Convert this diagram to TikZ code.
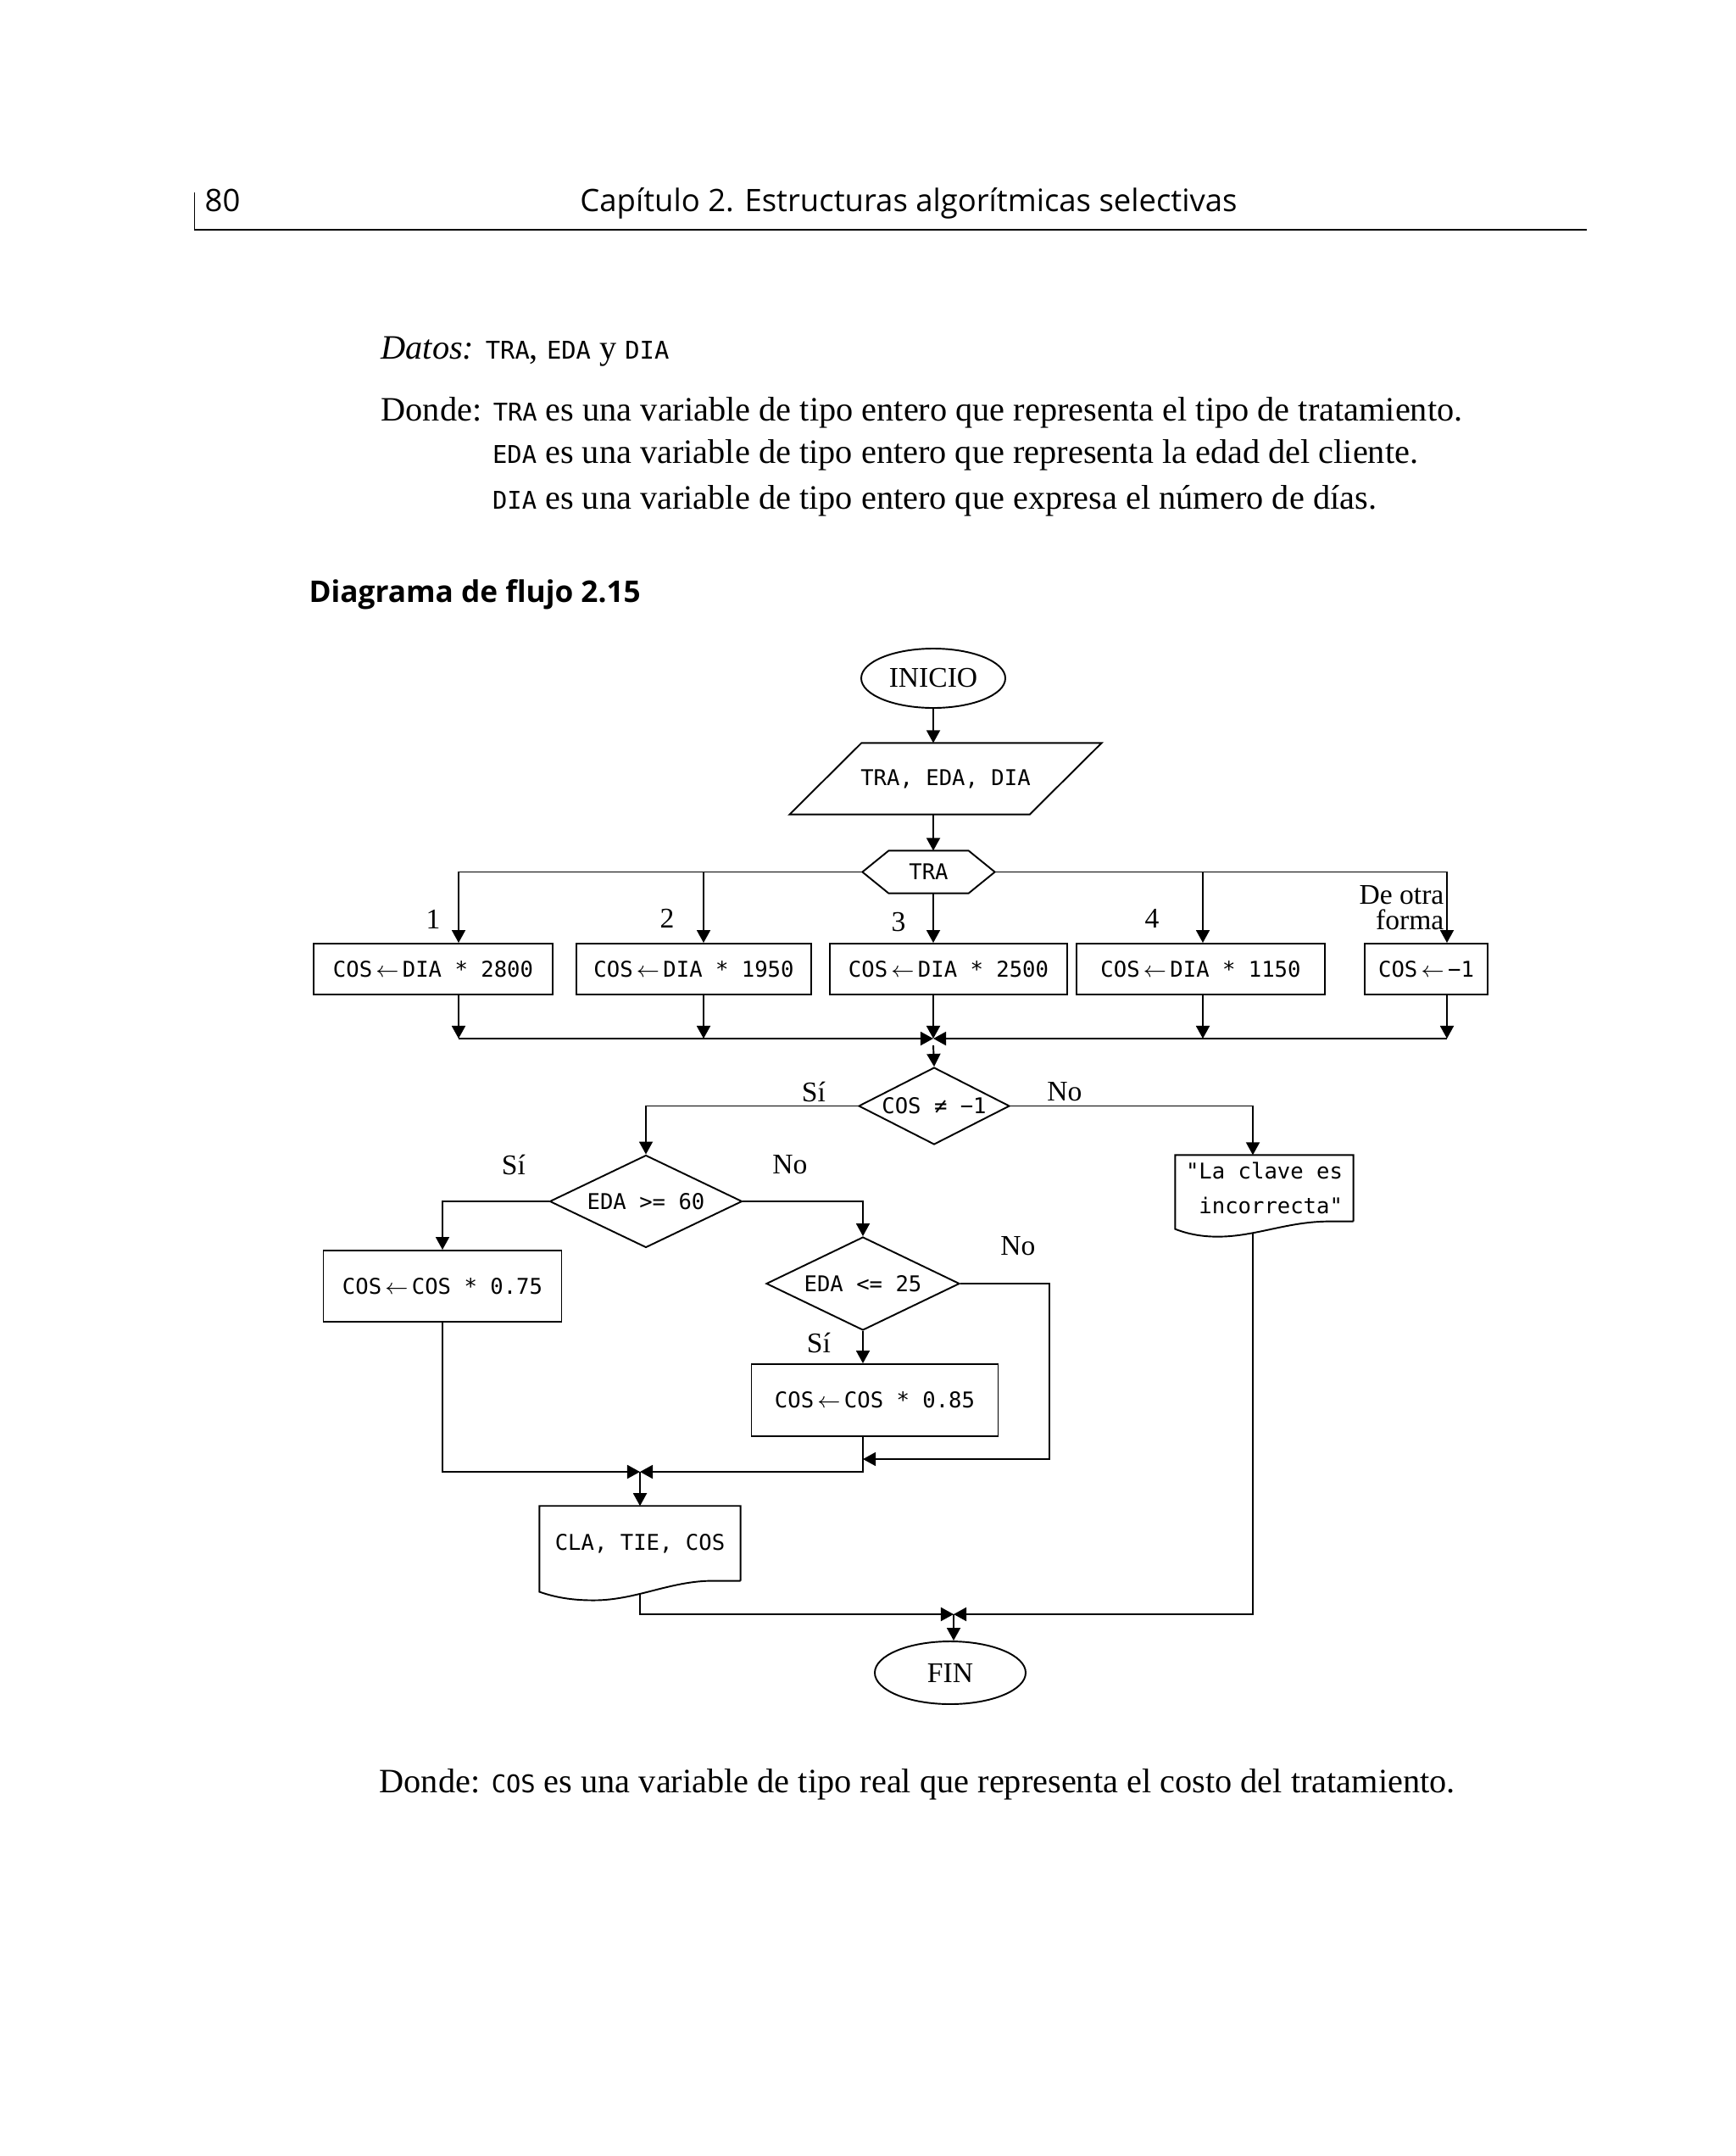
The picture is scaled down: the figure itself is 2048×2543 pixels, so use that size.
\documentclass[tikz,border=0pt]{standalone}
\usepackage{fontspec}
\setmainfont{Liberation Serif}
\newfontfamily\hdrfont{Open Sans}
\newfontfamily\codefont{DejaVu Sans Mono}
\usetikzlibrary{arrows.meta,shapes.geometric,calc}
\newcommand\upx{0.3125pt}
\newcommand\mycode[1]{{\codefont\fontsize{9}{11}\selectfont #1}}
\newcommand\lar{\,$\leftarrow$\,}
\tikzset{
  ln/.style={line width=0.6pt},
  arr/.style={line width=0.6pt,-{Triangle[length=4.7pt,width=5pt]}},
  codetxt/.style={font=\codefont\fontsize{8}{9.6}\selectfont},
  proc/.style={draw,line width=0.6pt,rectangle,inner sep=0pt,codetxt},
  term/.style={draw,line width=0.6pt,ellipse,inner sep=0pt,font=\fontsize{10.5}{12}\selectfont},
  dec/.style={draw,line width=0.6pt,diamond,aspect=2,inner sep=0pt,codetxt},
  plain/.style={inner sep=0pt,codetxt},
  lbl/.style={inner sep=0pt,font=\fontsize{10.5}{12}\selectfont},
  bodytxt/.style={anchor=base west,inner sep=0pt,font=\fontsize{12.6}{15}\selectfont},
}
\begin{document}
\begin{tikzpicture}[x=0.3125pt,y=-0.3125pt]
\fill[white] (0,0) rectangle (2048,2543);
\useasboundingbox (0,0) rectangle (2048,2543);

% ---------- header ----------
\coordinate (hv1) at (229.4,226.7);
\coordinate (hv2) at (229.4,271);
\coordinate (hr2) at (1872,271);
\draw[line width=0.5pt] (hv1) -- (hv2);
\draw[line width=0.9pt] (hv2) -- (hr2);
\node[anchor=base west,inner sep=0pt,font=\hdrfont\fontsize{11.4}{13}\selectfont] (pg) at (241,249.3) {80};
\node[anchor=base,inner sep=0pt,font=\hdrfont\fontsize{11.4}{13}\selectfont] (ttl) at (1072,249.3) {Capítulo 2. Estructuras algorítmicas selectivas};

% ---------- body text ----------
\node[bodytxt] (datos) at (449,423.3) {\textit{Datos:} \mycode{TRA}, \mycode{EDA} y \mycode{DIA}};
\node[bodytxt] (don1) at (449,496.7) {Donde: \mycode{TRA} es una variable de tipo entero que representa el tipo de tratamiento.};
\node[bodytxt] (don2) at (580.5,546.7) {\mycode{EDA} es una variable de tipo entero que representa la edad del cliente.};
\node[bodytxt] (don3) at (580.5,600) {\mycode{DIA} es una variable de tipo entero que expresa el número de días.};
\node[anchor=base west,inner sep=0pt,font=\hdrfont\bfseries\fontsize{11}{13}\selectfont] (diag) at (364,710) {Diagrama de flujo 2.15};
\node[bodytxt] (don4) at (447,2114) {Donde: \mycode{COS} es una variable de tipo real que representa el costo del tratamiento.};

% ---------- flowchart nodes ----------
\node[term,minimum width=170*\upx,minimum height=70*\upx] (inicio) at (1101,800) {INICIO};

\node[plain,minimum width=282*\upx,minimum height=83*\upx] (io) at (1115.5,918.5) {TRA, EDA, DIA};
\draw[ln] ($(io.south west)+(-42.4,0)$) -- ($(io.north west)+(42.4,0)$) -- ($(io.north east)+(42.4,0)$) -- ($(io.south east)+(-42.4,0)$) -- cycle;

\node[plain,minimum width=155*\upx,minimum height=49*\upx] (tra) at (1095.5,1028.5) {TRA};
\draw[ln] (tra.west) -- ($(tra.north west)+(31,0)$) -- ($(tra.north east)+(-31,0)$) -- (tra.east) -- ($(tra.south east)+(-31,0)$) -- ($(tra.south west)+(31,0)$) -- cycle;

\node[proc,minimum width=282*\upx,minimum height=60*\upx] (b1) at (511,1143) {COS\lar DIA * 2800};
\node[proc,minimum width=277*\upx,minimum height=60*\upx] (b2) at (818.5,1143) {COS\lar DIA * 1950};
\node[proc,minimum width=280*\upx,minimum height=60*\upx] (b3) at (1119,1143) {COS\lar DIA * 2500};
\node[proc,minimum width=293*\upx,minimum height=60*\upx] (b4) at (1416.5,1143) {COS\lar DIA * 1150};
\node[proc,minimum width=145*\upx,minimum height=60*\upx] (b5) at (1682.5,1143) {COS\lar −1};

\node[lbl] (l1) at (511,1084) {1};
\node[lbl] (l2) at (787,1083) {2};
\node[lbl] (l3) at (1060,1088) {3};
\node[lbl] (l4) at (1359,1083) {4};
\node[inner sep=0pt,anchor=east,align=right,font=\fontsize{10.5}{9.4}\selectfont] (lo) at (1704,1071) {De otra\\forma};

\node[dec,minimum width=178*\upx,minimum height=91*\upx] (d1) at (1102,1304.5) {COS ≠ −1};
\node[lbl] (s1) at (960,1288) {Sí};
\node[lbl] (n1) at (1256,1288) {No};

\node[plain,minimum width=209*\upx,minimum height=77*\upx,align=left,font=\codefont\fontsize{8}{12.8}\selectfont] (doc1) at (1491.5,1401.5) {"La clave es\\~incorrecta"};
\draw[ln] (doc1.south east) -- (doc1.north east) -- (doc1.north west) -- ($(doc1.south west)+(0,9)$)
  .. controls ($(doc1.south west)+(15,15)$) and ($(doc1.south west)+(32,18)$) .. ($(doc1.south west)+(50,18)$)
  .. controls ($(doc1.south west)+(95,18)$) and ($(doc1.south west)+(132,0)$) .. ($(doc1.south west)+(182,0)$)
  -- (doc1.south east);

\node[dec,minimum width=227*\upx,minimum height=109*\upx] (d2) at (762,1417) {EDA >= 60};
\node[lbl] (s2) at (606,1374) {Sí};
\node[lbl] (n2) at (932,1374) {No};

\node[proc,minimum width=281*\upx,minimum height=84*\upx] (b6) at (522,1517) {COS\lar COS * 0.75};

\node[dec,minimum width=228*\upx,minimum height=110*\upx] (d3) at (1018,1514) {EDA <= 25};
\node[lbl] (n3) at (1201,1470) {No};
\node[lbl] (s3) at (966,1584) {Sí};

\node[proc,minimum width=291*\upx,minimum height=85*\upx] (b7) at (1032,1651.5) {COS\lar COS * 0.85};

\node[plain,minimum width=236*\upx,minimum height=87*\upx] (doc2) at (755,1820.4) {CLA, TIE, COS};
\draw[ln] (doc2.south east) -- (doc2.north east) -- (doc2.north west) -- ($(doc2.south west)+(0,13)$)
  .. controls ($(doc2.south west)+(20,20)$) and ($(doc2.south west)+(40,23)$) .. ($(doc2.south west)+(64,23)$)
  .. controls ($(doc2.south west)+(114,23)$) and ($(doc2.south west)+(154,0)$) .. ($(doc2.south west)+(205,0)$)
  -- (doc2.south east);

\node[term,minimum width=178*\upx,minimum height=74*\upx] (fin) at (1121,1973) {FIN};

% ---------- coordinates ----------
\coordinate (cx) at (1101,1028.5);
\coordinate (c1) at (541,1028.5);
\coordinate (c2) at (830,1028.5);
\coordinate (c4) at (1419,1028.5);
\coordinate (c5) at (1707,1028.5);
\coordinate (m) at (1101,1225);
\coordinate (m2) at (1101,1233);
\coordinate (c6) at (1478,1304.5);
\coordinate (r1) at (1238,1721);
\coordinate (k) at (755,1736);
\coordinate (e1) at (1478,1454);
\coordinate (e2) at (755,1880);
\coordinate (k2) at (1125,1904);

% ---------- connectors ----------
\draw[arr] (inicio.south) -- (inicio.south |- io.north);
\draw[arr] (inicio.south |- io.south) -- (inicio.south |- tra.north);
\draw[arr] (tra.west) -| (c1 |- b1.north);
\draw[arr] (c2) -- (c2 |- b2.north);
\draw[arr] (cx |- tra.south) -- (cx |- b3.north);
\draw[arr] (tra.east) -| (c5 |- b5.north);
\draw[arr] (c4) -- (c4 |- b4.north);

\draw[arr] (c1 |- b1.south) -- (c1 |- m);
\draw[arr] (c2 |- b2.south) -- (c2 |- m);
\draw[arr] (cx |- b3.south) -- (m);
\draw[arr] (c4 |- b4.south) -- (c4 |- m);
\draw[arr] (c5 |- b5.south) -- (c5 |- m);
\draw[arr] (c1 |- m) -- (m);
\draw[arr] (c5 |- m) -- (m);
\draw[arr] (m2) -- (d1.north);

\draw[arr] (d1.west) -| (d2.north);
\draw[arr] (d1.east) -| (c6 |- doc1.north);
\draw[arr] (d2.west) -| (b6.north);
\draw[arr] (d2.east) -| (d3.north);
\draw[arr] (d3.south) -- (d3.south |- b7.north);
\draw[arr] (d3.east) -| (r1) -- (d3.south |- r1);
\draw[arr] (d3.south |- b7.south) |- (k);
\draw[arr] (b6.south) |- (k);
\draw[arr] (k) -- (k |- doc2.north);
\draw[arr] (e2) |- (k2);
\draw[arr] (e1) |- (k2);
\draw[arr] (k2) -- (k2 |- fin.north);
\end{tikzpicture}
\end{document}
